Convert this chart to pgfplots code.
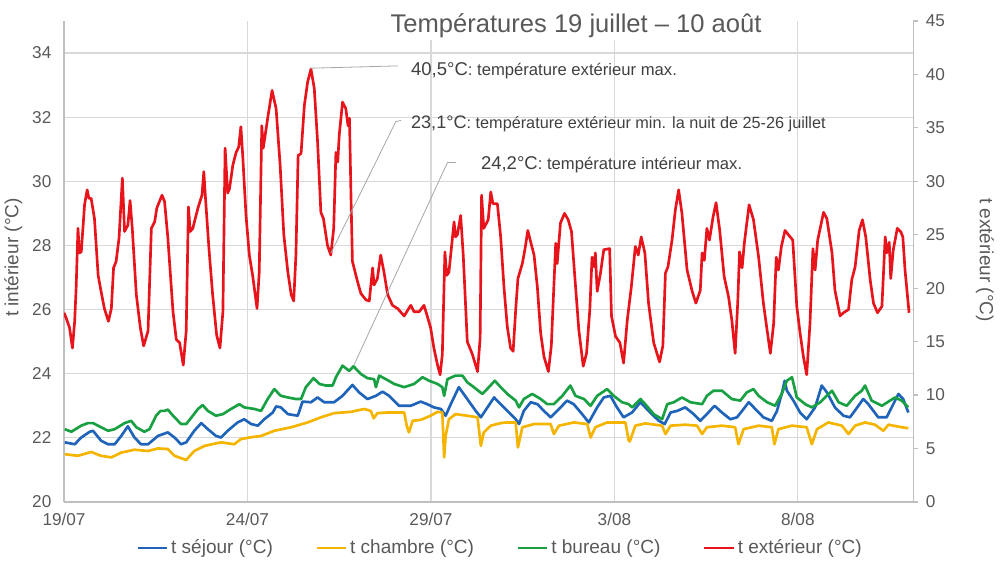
\documentclass[border=0pt]{standalone}
\usepackage{pgfplots}
\pgfplotsset{compat=1.18}
\usepackage{fontspec}
\setmainfont{Liberation Sans}
\definecolor{cred}{HTML}{E8141C}
\definecolor{cblue}{HTML}{1F64B8}
\definecolor{cgreen}{HTML}{18A043}
\definecolor{cyellow}{HTML}{F4B400}
\definecolor{ctext}{HTML}{595959}
\definecolor{cann}{HTML}{404040}
\definecolor{cgrid}{HTML}{D9D9D9}
\definecolor{caxis}{HTML}{BFBFBF}
\definecolor{clead}{HTML}{A6A6A6}
\newcommand\fs[1]{\fontsize{#1}{#1}\selectfont}
\begin{document}
\begin{tikzpicture}
\begin{scope}[x=0.75pt,y=0.75pt]
\useasboundingbox (0,0) rectangle (1000,563);
\end{scope}
\begin{axis}[
  at={(47.03pt,45.23pt)}, anchor=south west,
  scale only axis, width=637.7pt, height=361.3pt,
  xmin=0, xmax=23.14, ymin=20, ymax=35,
  axis x line*=bottom, axis y line*=left,
  every outer x axis line/.append style={-},
  every outer y axis line/.append style={-},
  axis line style={-, caxis, line width=0.9pt},
  xtick={0,5,10,15,20}, xticklabels={19/07,24/07,29/07,3/08,8/08},
  ytick={20,22,...,34},
  major tick length=0pt,
  xmajorgrids, ymajorgrids,
  grid style={cgrid, line width=0.9pt},
  tick label style={font=\fs{12.9}, text=ctext},
  /pgf/number format/assume math mode=true,
  yticklabel style={xshift=-6pt},
  xticklabel style={yshift=-5pt},
  ylabel={t intérieur (°C)},
  ylabel style={at={(axis description cs:-0.0596,0.508)}, anchor=center, font=\fs{14.3}, text=ctext},
  legend columns=4,
  legend style={at={(axis description cs:0.514,-0.0955)}, anchor=center, draw=none, fill=none,
    font=\fs{14.3}, text=ctext, /tikz/every even column/.append style={column sep=30pt}},
  legend image code/.code={\draw[#1] (0pt,0pt) -- (22pt,0pt);},
  every axis plot/.append style={line width=2pt, line join=round},
]
\addplot[cblue] coordinates {
(0.02,21.86)(0.29,21.80)(0.47,22.01)(0.70,22.19)(0.79,22.22)(1.01,21.91)(1.20,21.80)(1.38,21.80)
(1.56,22.06)(1.74,22.36)(1.92,22.01)(2.10,21.80)(2.29,21.80)(2.56,22.06)(2.83,22.17)(3.01,22.01)
(3.19,21.80)(3.33,21.86)(3.55,22.22)(3.74,22.46)(3.92,22.27)(4.14,22.06)(4.28,22.01)(4.46,22.22)
(4.73,22.48)(4.91,22.58)(5.10,22.43)(5.28,22.38)(5.46,22.58)(5.69,22.79)(5.78,22.98)(5.91,22.95)
(6.10,22.74)(6.37,22.69)(6.50,23.13)(6.73,23.11)(6.91,23.26)(7.09,23.11)(7.36,23.11)(7.59,23.31)
(7.86,23.65)(8.04,23.42)(8.27,23.21)(8.50,23.31)(8.68,23.44)(8.86,23.31)(9.13,23.00)(9.45,23.00)
(9.72,23.13)(9.90,23.05)(10.08,22.95)(10.27,22.90)(10.40,22.69)(10.54,23.05)(10.76,23.58)(10.99,23.21)
(11.22,22.84)(11.36,22.64)(11.54,22.95)(11.72,23.26)(11.90,23.05)(12.13,22.79)(12.31,22.58)(12.40,22.43)
(12.53,22.84)(12.72,23.11)(12.90,23.05)(13.08,22.84)(13.26,22.64)(13.44,22.84)(13.71,23.16)(13.89,23.05)
(14.12,22.74)(14.30,22.48)(14.53,22.95)(14.71,23.26)(14.89,23.31)(15.07,22.95)(15.25,22.64)(15.48,22.79)
(15.71,23.11)(15.93,22.84)(16.21,22.53)(16.37,22.43)(16.53,22.79)(16.71,22.84)(16.93,22.95)(17.16,22.74)
(17.34,22.53)(17.52,22.74)(17.73,23.00)(17.93,22.79)(18.16,22.58)(18.34,22.64)(18.48,22.84)(18.66,23.11)
(18.84,22.90)(19.06,22.64)(19.29,22.53)(19.43,22.84)(19.56,23.37)(19.64,23.78)(19.70,23.47)(19.88,23.16)
(20.06,22.79)(20.24,22.58)(20.47,22.95)(20.65,23.63)(20.79,23.42)(21.01,22.95)(21.24,22.69)(21.42,22.64)
(21.65,23.00)(21.78,23.21)(21.92,23.05)(22.19,22.64)(22.42,22.64)(22.60,23.05)(22.74,23.37)(22.87,23.21)
(23.01,22.79)
};
\addlegendentry{t séjour (°C)}
\addplot[cyellow] coordinates {
(0.02,21.49)(0.38,21.44)(0.74,21.56)(1.01,21.44)(1.29,21.39)(1.56,21.54)(1.92,21.63)(2.29,21.59)
(2.56,21.67)(2.83,21.65)(3.01,21.44)(3.33,21.31)(3.55,21.59)(3.83,21.75)(4.28,21.86)(4.64,21.80)
(4.82,21.96)(5.05,22.01)(5.37,22.06)(5.73,22.22)(6.19,22.33)(6.64,22.48)(7.00,22.64)(7.36,22.77)
(7.82,22.81)(8.18,22.90)(8.36,22.84)(8.44,22.61)(8.54,22.77)(8.82,22.79)(9.27,22.79)(9.34,22.38)
(9.40,22.17)(9.50,22.53)(9.72,22.56)(9.99,22.69)(10.18,22.81)(10.31,22.79)(10.36,21.39)(10.40,22.06)
(10.49,22.58)(10.67,22.74)(10.99,22.69)(11.27,22.64)(11.36,21.75)(11.44,22.17)(11.63,22.38)(11.90,22.46)
(12.08,22.48)(12.31,22.48)(12.37,21.70)(12.49,22.33)(12.81,22.43)(13.26,22.43)(13.35,22.12)(13.49,22.38)
(13.89,22.48)(14.26,22.43)(14.35,22.01)(14.48,22.33)(14.80,22.48)(15.30,22.48)(15.39,21.91)(15.42,21.89)
(15.57,22.38)(15.84,22.45)(16.30,22.38)(16.39,22.12)(16.53,22.38)(16.93,22.41)(17.25,22.38)(17.39,22.12)
(17.52,22.33)(17.93,22.38)(18.29,22.33)(18.38,21.80)(18.52,22.27)(18.93,22.38)(19.29,22.33)(19.36,21.80)
(19.47,22.27)(19.84,22.38)(20.24,22.33)(20.38,21.80)(20.52,22.27)(20.83,22.48)(21.20,22.38)(21.38,22.12)
(21.56,22.38)(21.83,22.48)(22.10,22.41)(22.33,22.22)(22.47,22.41)(22.83,22.33)(23.01,22.30)
};
\addlegendentry{t chambre (°C)}
\addplot[cgreen] coordinates {
(0.02,22.27)(0.20,22.19)(0.47,22.38)(0.65,22.46)(0.79,22.46)(1.01,22.33)(1.20,22.22)(1.38,22.27)
(1.65,22.46)(1.83,22.53)(1.97,22.33)(2.19,22.19)(2.33,22.27)(2.51,22.69)(2.63,22.84)(2.74,22.84)
(2.83,22.88)(2.97,22.69)(3.19,22.43)(3.33,22.43)(3.51,22.69)(3.65,22.90)(3.78,23.02)(3.92,22.84)
(4.14,22.69)(4.33,22.74)(4.55,22.90)(4.78,23.05)(4.91,22.95)(5.19,22.90)(5.37,22.84)(5.55,23.21)
(5.73,23.52)(5.91,23.31)(6.10,23.26)(6.32,23.21)(6.46,23.21)(6.59,23.58)(6.80,23.86)(6.96,23.68)
(7.14,23.63)(7.32,23.63)(7.41,23.89)(7.59,24.25)(7.77,24.09)(7.89,24.23)(8.09,23.99)(8.27,23.86)
(8.45,23.83)(8.50,23.58)(8.59,23.94)(8.77,23.83)(9.00,23.68)(9.27,23.58)(9.54,23.68)(9.77,23.89)
(9.95,23.78)(10.18,23.68)(10.31,23.58)(10.36,23.31)(10.45,23.83)(10.67,23.94)(10.86,23.94)(10.99,23.73)
(11.17,23.58)(11.40,23.37)(11.58,23.58)(11.74,23.78)(11.90,23.58)(12.08,23.37)(12.31,23.16)(12.40,22.95)
(12.53,23.21)(12.76,23.37)(12.99,23.21)(13.17,23.05)(13.35,23.05)(13.58,23.31)(13.80,23.63)(13.94,23.31)
(14.17,23.21)(14.35,23.00)(14.53,23.31)(14.80,23.52)(14.98,23.31)(15.21,23.11)(15.39,23.05)(15.48,22.95)
(15.71,23.21)(15.84,23.05)(16.07,22.74)(16.30,22.58)(16.44,23.05)(16.62,23.11)(16.84,23.26)(17.07,23.11)
(17.39,23.05)(17.52,23.31)(17.70,23.47)(17.93,23.47)(18.20,23.21)(18.43,23.16)(18.61,23.42)(18.79,23.52)
(18.93,23.31)(19.16,23.11)(19.38,23.00)(19.56,23.37)(19.70,23.78)(19.84,23.89)(19.97,23.26)(20.20,23.05)
(20.38,22.95)(20.61,23.11)(20.74,23.26)(20.93,23.47)(21.11,23.11)(21.33,23.00)(21.56,23.31)(21.74,23.47)
(21.83,23.63)(22.01,23.16)(22.29,23.00)(22.51,23.16)(22.65,23.26)(22.83,23.16)(23.01,22.95)
};
\addlegendentry{t bureau (°C)}
\addlegendimage{cred, line width=2pt}
\addlegendentry{t extérieur (°C)}
\end{axis}
\begin{axis}[
  at={(47.03pt,45.23pt)}, anchor=south west,
  scale only axis, width=637.7pt, height=361.3pt,
  xmin=0, xmax=23.14, ymin=0, ymax=45,
  axis x line=none, axis y line*=right,
  every outer y axis line/.append style={-},
  axis line style={-, caxis, line width=0.9pt},
  ytick={0,5,...,45},
  tick align=outside, major tick length=4pt,
  ytick style={caxis, line width=0.9pt},
  tick label style={font=\fs{12.9}, text=ctext},
  /pgf/number format/assume math mode=true,
  yticklabel style={xshift=2pt},
  ylabel={t extérieur (°C)},
  ylabel style={at={(axis description cs:1.0847,0.503)}, anchor=center, rotate=180, font=\fs{14.3}, text=ctext},
]
\addplot[cred, line width=2pt, line join=round] coordinates {
(0.00,17.7)(0.06,17.2)(0.15,16.3)(0.23,14.4)(0.29,16.9)(0.33,20.0)(0.38,25.6)(0.42,23.3)(0.47,23.4)
(0.56,27.8)(0.63,29.2)(0.68,28.4)(0.74,28.4)(0.83,26.5)(0.93,21.2)(1.01,19.7)(1.10,18.1)(1.21,16.9)
(1.29,18.1)(1.35,21.9)(1.42,22.5)(1.50,24.7)(1.59,30.3)(1.65,25.3)(1.74,25.9)(1.80,28.2)(1.86,25.6)
(1.97,19.4)(2.08,16.3)(2.17,14.6)(2.29,16.0)(2.38,25.6)(2.47,26.2)(2.53,27.5)(2.67,28.7)(2.74,28.1)
(2.83,24.7)(2.97,17.8)(3.06,15.2)(3.15,14.9)(3.25,12.8)(3.33,16.0)(3.39,27.6)(3.44,25.3)(3.51,25.6)
(3.65,27.5)(3.76,28.7)(3.81,30.9)(3.85,28.7)(3.95,23.7)(4.05,19.4)(4.16,15.6)(4.25,14.4)(4.33,17.8)
(4.39,33.1)(4.46,28.9)(4.51,29.3)(4.60,31.5)(4.69,32.7)(4.76,33.2)(4.82,35.1)(4.87,32.4)(4.96,26.8)
(5.05,23.1)(5.14,21.2)(5.26,18.1)(5.32,21.5)(5.39,35.2)(5.43,33.1)(5.55,35.9)(5.67,38.5)(5.78,36.8)
(5.89,31.5)(5.99,25.0)(6.10,21.5)(6.19,19.4)(6.26,18.8)(6.32,23.1)(6.38,32.4)(6.46,32.6)(6.55,37.1)
(6.64,39.3)(6.73,40.5)(6.82,38.7)(6.91,33.7)(7.00,27.1)(7.07,26.5)(7.18,24.0)(7.27,23.1)(7.35,25.6)
(7.41,32.7)(7.46,31.8)(7.50,34.3)(7.59,37.4)(7.68,36.8)(7.74,35.2)(7.78,35.9)(7.82,28.7)(7.86,22.5)
(8.00,20.6)(8.09,19.5)(8.23,18.9)(8.32,18.8)(8.41,21.9)(8.45,20.3)(8.54,20.9)(8.63,23.1)(8.72,21.5)
(8.82,19.4)(8.95,18.4)(9.09,18.1)(9.27,17.4)(9.45,18.4)(9.54,17.8)(9.68,17.8)(9.81,18.4)(9.89,17.5)
(9.99,16.3)(10.08,14.4)(10.18,12.8)(10.25,11.9)(10.31,13.8)(10.38,23.4)(10.43,21.2)(10.49,21.5)
(10.63,26.2)(10.67,24.8)(10.72,25.0)(10.81,26.8)(10.88,23.1)(10.99,15.0)(11.13,13.8)(11.27,12.2)
(11.34,15.3)(11.38,28.7)(11.44,25.6)(11.56,26.4)(11.63,29.0)(11.69,27.9)(11.81,27.9)(11.90,24.8)
(11.99,20.1)(12.08,16.4)(12.17,14.4)(12.24,14.1)(12.31,18.0)(12.37,20.9)(12.49,22.3)(12.56,23.6)
(12.64,25.4)(12.72,24.3)(12.81,23.1)(12.90,20.1)(12.99,15.8)(13.08,13.6)(13.20,12.2)(13.28,14.6)
(13.40,24.2)(13.44,22.3)(13.53,26.1)(13.64,27.0)(13.74,26.4)(13.83,25.3)(13.92,21.1)(14.03,16.1)
(14.15,12.7)(14.24,13.9)(14.33,18.0)(14.39,22.9)(14.45,22.0)(14.48,23.3)(14.53,19.7)(14.62,21.4)
(14.71,23.6)(14.87,23.7)(14.92,17.4)(15.03,15.5)(15.15,14.9)(15.25,13.0)(15.35,17.0)(15.46,20.1)
(15.57,23.9)(15.65,23.1)(15.73,24.8)(15.83,23.3)(15.93,18.6)(16.07,14.9)(16.23,13.1)(16.32,14.6)
(16.39,21.4)(16.46,22.0)(16.57,24.5)(16.66,27.3)(16.75,29.2)(16.84,27.0)(16.98,21.7)(17.12,19.7)
(17.22,18.6)(17.34,19.8)(17.39,23.3)(17.45,22.6)(17.52,25.6)(17.59,24.5)(17.69,26.7)(17.77,28.0)
(17.87,25.4)(17.99,21.1)(18.11,19.2)(18.20,17.0)(18.29,13.9)(18.36,18.6)(18.41,23.4)(18.48,21.9)
(18.54,24.2)(18.67,27.8)(18.79,26.4)(18.93,22.9)(19.06,18.6)(19.16,16.1)(19.25,13.9)(19.34,16.7)
(19.41,22.9)(19.47,21.7)(19.55,23.9)(19.65,25.4)(19.74,25.0)(19.86,24.5)(19.97,18.3)(20.06,15.8)
(20.15,13.6)(20.24,11.9)(20.33,16.7)(20.41,23.7)(20.47,21.7)(20.54,24.5)(20.70,27.1)(20.79,26.5)
(20.93,23.3)(21.01,19.8)(21.15,17.4)(21.24,17.7)(21.38,18.0)(21.47,20.8)(21.56,22.0)(21.67,25.4)
(21.76,26.4)(21.85,24.8)(21.97,20.8)(22.06,18.6)(22.17,17.7)(22.29,18.3)(22.38,24.8)(22.42,23.3)
(22.49,24.3)(22.53,20.9)(22.60,23.6)(22.71,25.6)(22.80,25.3)(22.86,24.8)(22.92,21.7)(23.03,17.7)
};
\end{axis}
\begin{scope}[x=0.75pt,y=0.75pt]
\draw[clead, line width=0.6pt] (310,494.7) -- (397,497);
\draw[clead, line width=0.6pt] (330,309.7) -- (395,441.3) -- (400,442.3);
\draw[clead, line width=0.6pt] (353.3,198) -- (446.7,400.3) -- (455,400.3);
\node[anchor=base west, inner sep=0pt, text=cann] at (410,487) {\fs{13.9}40,5°C\fs{12.5}: température extérieur max.};
\node[anchor=base west, inner sep=0pt, text=cann] at (410,434.7) {\fs{13.6}23,1°C\fs{12.2}: température extérieur min. la nuit de 25-26 juillet};
\node[anchor=base west, inner sep=0pt, text=cann] at (480,393) {\fs{13.9}24,2°C\fs{12.5}: température intérieur max.};
\node[anchor=base, fill=white, inner sep=1.5pt, text=ctext] at (575.5,530) {\fs{19.2}Températures 19 juillet – 10 août};
\end{scope}
\end{tikzpicture}
\end{document}
